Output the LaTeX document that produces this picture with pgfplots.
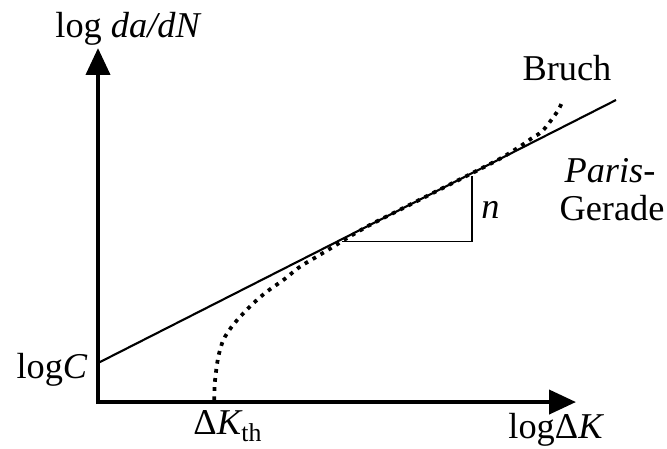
\documentclass[border=0pt]{standalone}
\usepackage{fontspec}
\setmainfont{Liberation Serif}
\usepackage{pgfplots}
\pgfplotsset{compat=1.18}
\usetikzlibrary{arrows.meta}

\tikzset{lbl/.style={font=\fontsize{15.5}{18}\selectfont, inner sep=0pt}}

\begin{document}
\begin{tikzpicture}
\begin{axis}[
  scale only axis, width=10cm, height=6.717cm,
  xmin=0, xmax=667, ymin=0, ymax=448,
  hide axis, clip=false,
]
% frame of the drawing area
\addplot[draw=none] coordinates {(0,0) (667,448)};

% coordinate axes with arrow heads
\addplot[black, line width=1.8pt, -{Triangle[length=11.5pt, width=10.2pt]}]
  coordinates {(98,44) (98,400)};
\addplot[black, line width=1.8pt, -{Triangle[length=11.5pt, width=10.2pt]}]
  coordinates {(96,46) (576,46)};

% Paris line
\addplot[black, line width=0.9pt] coordinates {(98,85) (616,348)};

% slope triangle
\addplot[black, line width=0.45pt] coordinates {(342,207) (472,207) (472,272)};

% crack growth curve
\addplot[black, line width=1.6pt, dash pattern=on 1.6pt off 2.3pt, smooth, tension=0.5]
  coordinates {
  (214.3,48) (214.5,60) (215.5,72) (218.3,91.3) (223.3,108) (231.7,121.3)
  (241.7,133) (253.3,144.7) (266.7,156.3) (283.3,168) (300,181.3)
  (316.7,191.3) (333.3,201.3) (346.7,209.7) (370,223.1) (400,238.3)
  (440,258.6) (480,278.9) (500,289.3) (511.7,296.3) (521,302.3)
  (531.7,309.7) (541.7,316.3) (550,326.3) (558.3,338) (562.7,347.3)
  };

% labels
\node[lbl, anchor=base west] at (axis cs:55,411) {log \textit{da/dN}};
\node[lbl, anchor=base] at (axis cs:567,368) {Bruch};
\node[lbl, anchor=base] at (axis cs:610,266) {\textit{Paris}-};
\node[lbl, anchor=base] at (axis cs:612,228) {Gerade};
\node[lbl, anchor=base west] at (axis cs:481,229.7) {\textit{n}};
\node[lbl, anchor=base east] at (axis cs:88,70) {log\textit{C}};
\node[lbl, anchor=base west] at (axis cs:193,14)
  {Δ\textit{K}\kern-0.5pt\raisebox{-3pt}{\fontsize{11}{12}\selectfont th}};
\node[lbl, anchor=base west] at (axis cs:508,10) {logΔ\textit{K}};
\end{axis}
\end{tikzpicture}
\end{document}
